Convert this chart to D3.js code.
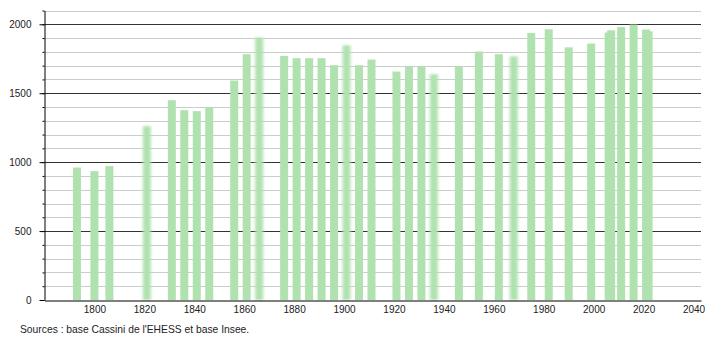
<!DOCTYPE html>
<html>
<head>
<meta charset="utf-8">
<script src="https://cdn.jsdelivr.net/npm/d3@7"></script>
<style>
  body { margin: 0; background: #fff; }
  text { font-family: "Liberation Sans", Arial, sans-serif; }
</style>
</head>
<body>
<div id="chart"></div>
<script>
// census years and population
const years = [1793, 1800, 1806, 1821, 1831, 1836, 1841, 1846, 1856, 1861, 1866,
               1876, 1881, 1886, 1891, 1896, 1901, 1906, 1911, 1921, 1926, 1931,
               1936, 1946, 1954, 1962, 1968, 1975, 1982, 1990, 1999, 2006, 2007,
               2011, 2016, 2021, 2022];
const population = [961, 935, 971, 1261, 1449, 1377, 1370, 1393, 1592, 1783, 1904,
                    1771, 1754, 1754, 1754, 1703, 1848, 1703, 1744, 1657, 1691, 1696,
                    1638, 1696, 1802, 1783, 1768, 1937, 1964, 1833, 1860, 1940, 1956,
                    1980, 1998, 1962, 1949];
// bars that look soft/blurred in the original
const softYears = [1821, 1866, 1901, 1936, 1968];
const xTicks = [1800, 1820, 1840, 1860, 1880, 1900, 1920, 1940, 1960, 1980, 2000, 2020, 2040];
const yTicks = [0, 500, 1000, 1500, 2000];
const sourceText = "Sources : base Cassini de l'EHESS et base Insee.";

const W = 710, H = 340;
const LEFT = 44.5, RIGHT = 701, TOP = 10.5, BOTTOM = 300;
const BAR_W = 8;

const data = years.map((y, i) => ({ year: y, pop: population[i] }));

const svg = d3.select("#chart").append("svg")
    .attr("width", W)
    .attr("height", H);

svg.append("defs").append("filter")
    .attr("id", "soft")
    .attr("x", "-50%").attr("y", "-5%")
    .attr("width", "200%").attr("height", "110%")
    .append("feGaussianBlur")
    .attr("stdDeviation", "1.4 0.8");

const x = d3.scaleLinear().domain([1780, 2043]).range([LEFT, RIGHT]);
const y = d3.scaleLinear().domain([0, 2100]).range([BOTTOM, TOP]);

// gridlines every 100, darker every 500
const grid = svg.append("g");
grid.selectAll("line")
    .data(d3.range(100, 2101, 100))
    .enter().append("line")
    .attr("x1", LEFT).attr("x2", RIGHT)
    .attr("y1", d => Math.round(y(d)) + 0.5)
    .attr("y2", d => Math.round(y(d)) + 0.5)
    .attr("stroke", d => d % 500 === 0 ? "#333" : "#ccc")
    .attr("stroke-width", 1);

// bars
svg.append("g")
    .selectAll("rect")
    .data(data)
    .enter()
    .append("rect")
    .attr("x", d => x(d.year) - BAR_W / 2)
    .attr("y", d => y(d.pop))
    .attr("width", BAR_W)
    .attr("height", d => BOTTOM - y(d.pop))
    .attr("fill", "#b0e2b0")
    .attr("filter", d => softYears.includes(d.year) ? "url(#soft)" : null);

// y axis: minor ticks then labelled major ticks
svg.append("g")
    .attr("transform", `translate(${Math.round(LEFT) - 0.5},0)`)
    .call(d3.axisLeft(y).tickValues(d3.range(0, 2101, 100)).tickSize(2).tickSizeOuter(0).tickFormat(""))
    .call(g => g.select(".domain").attr("stroke", "#000"));

const yAxis = svg.append("g")
    .attr("transform", `translate(${Math.round(LEFT) - 0.5},0)`)
    .call(d3.axisLeft(y).tickValues(yTicks).tickSize(5).tickSizeOuter(0).tickPadding(8).tickFormat(d3.format("d")));
yAxis.select(".domain").remove();
yAxis.selectAll("text").attr("font-size", 10).attr("fill", "#222")
    .style("font-family", "'Liberation Sans', Arial, sans-serif");

// x axis
const xAxis = svg.append("g")
    .attr("transform", `translate(0,${BOTTOM + 0.5})`)
    .call(d3.axisBottom(x).tickValues(xTicks).tickSize(0).tickSizeOuter(0).tickPadding(5).tickFormat(d3.format("d")));
xAxis.select(".domain").attr("stroke", "#000");
xAxis.selectAll("text").attr("font-size", 10).attr("fill", "#222")
    .style("font-family", "'Liberation Sans', Arial, sans-serif");

svg.append("text")
    .attr("x", 20)
    .attr("y", 333)
    .attr("font-size", 10.3)
    .attr("fill", "#222")
    .text(sourceText);
</script>
</body>
</html>
